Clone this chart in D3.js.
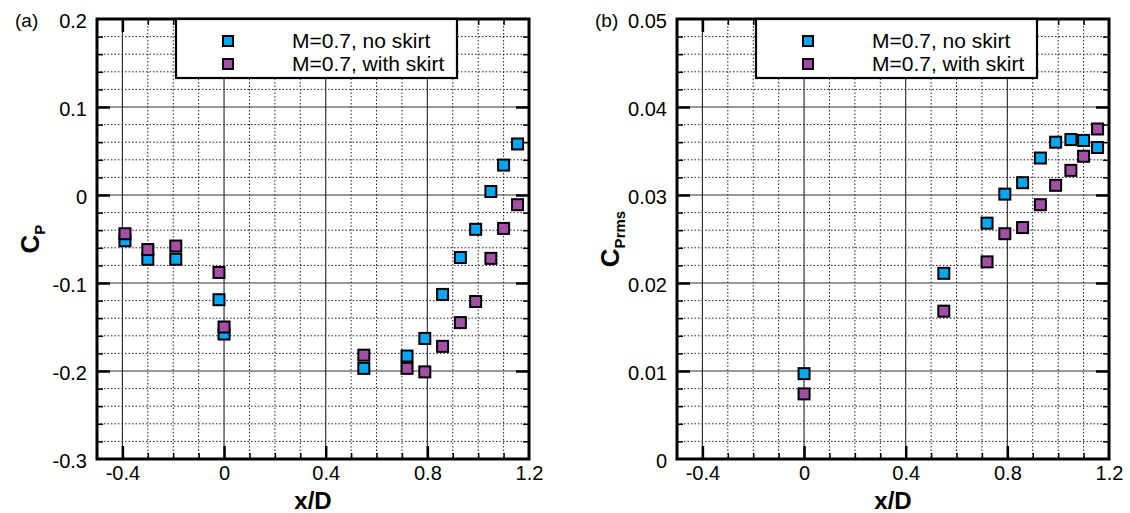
<!DOCTYPE html>
<html>
<head>
<meta charset="utf-8">
<script src="https://cdn.jsdelivr.net/npm/d3@7"></script>
<style>
    body { margin: 0; background: #fff; }
    svg text { font-family: "Liberation Sans", Arial, Helvetica, sans-serif; fill: #000; }
</style>
</head>
<body>
<div id="chart"></div>
<script>
var cpStations = [-0.39, -0.30, -0.19, -0.02, 0.0, 0.55, 0.72, 0.79, 0.86, 0.93, 0.99, 1.05, 1.10, 1.155];
var cpNoSkirt = [-0.052, -0.073, -0.073, -0.119, -0.158, -0.197, -0.183, -0.163, -0.113, -0.071, -0.039, 0.004, 0.034, 0.058];
var cpWithSkirt = [-0.044, -0.062, -0.058, -0.088, -0.150, -0.182, -0.197, -0.201, -0.172, -0.145, -0.121, -0.072, -0.038, -0.011];

var rmsStations = [0.0, 0.55, 0.72, 0.79, 0.86, 0.93, 0.99, 1.05, 1.10, 1.155];
var rmsNoSkirt = [0.0097, 0.0211, 0.0268, 0.0301, 0.0314, 0.0342, 0.0360, 0.0363, 0.0362, 0.0354];
var rmsWithSkirt = [0.0074, 0.0168, 0.0224, 0.0256, 0.0263, 0.0289, 0.0311, 0.0328, 0.0344, 0.0375];

var seriesNames = ["M=0.7, no skirt", "M=0.7, with skirt"];
var seriesColors = ["#00a8f4", "#a24fa5"];

var xTicks = [-0.4, 0, 0.4, 0.8, 1.2];
var cpTicks = [0.2, 0.1, 0, -0.1, -0.2, -0.3];
var rmsTicks = [0.05, 0.04, 0.03, 0.02, 0.01, 0];

var W = 1130, H = 513;
var margin = { top: 19, left: 97 },
    width = 432,
    height = 440;

var svg = d3.select("#chart")
    .append("svg")
    .attr("width", W)
    .attr("height", H);

function fmt(v) { return String(v); }

function panel(opts) {
    var g = svg.append("g")
        .attr("transform", "translate(" + opts.left + "," + margin.top + ")");

    var x = d3.scaleLinear().domain([-0.5, 1.2]).range([0, width]);
    var y = d3.scaleLinear().domain(opts.yDomain).range([height, 0]);

    // minor positions
    var xMinor = d3.range(-4, 12).map(function (i) { return i / 10; })
        .filter(function (v) { return xTicks.indexOf(v) < 0; });
    var yMinor = d3.range(opts.minorFrom, opts.minorTo + 1)
        .filter(function (i) { return i % 5 != 0; })
        .map(function (i) { return i * opts.minorStep; });
    var xMajor = xTicks.filter(function (v) { return v > -0.5 && v < 1.2; });
    var yMajor = opts.ticks.filter(function (v) { return v > opts.yDomain[0] && v < opts.yDomain[1]; });

    // dotted minor grid
    g.append("g").selectAll("line").data(xMinor).enter().append("line")
        .attr("x1", function (d) { return x(d); }).attr("x2", function (d) { return x(d); })
        .attr("y1", 0).attr("y2", height)
        .attr("stroke", "#222").attr("stroke-width", 1).attr("stroke-dasharray", "1.5,2");
    g.append("g").selectAll("line").data(yMinor).enter().append("line")
        .attr("x1", 0).attr("x2", width)
        .attr("y1", function (d) { return y(d); }).attr("y2", function (d) { return y(d); })
        .attr("stroke", "#222").attr("stroke-width", 1).attr("stroke-dasharray", "1.5,2");

    // solid major grid
    g.append("g").selectAll("line").data(xMajor).enter().append("line")
        .attr("x1", function (d) { return x(d); }).attr("x2", function (d) { return x(d); })
        .attr("y1", 0).attr("y2", height)
        .attr("stroke", "#333").attr("stroke-width", 1.2);
    g.append("g").selectAll("line").data(yMajor).enter().append("line")
        .attr("x1", 0).attr("x2", width)
        .attr("y1", function (d) { return y(d); }).attr("y2", function (d) { return y(d); })
        .attr("stroke", "#333").attr("stroke-width", 1.2);

    // inward ticks on all four sides
    function ticks(axis, vals, size, sw, tr) {
        var a = g.append("g").attr("transform", tr || null)
            .call(axis.tickValues(vals).tickSize(size).tickFormat(""));
        a.select(".domain").remove();
        a.selectAll("line").attr("stroke", "#000").attr("stroke-width", sw);
    }
    ticks(d3.axisLeft(y), yMajor, -13, 2.5);
    ticks(d3.axisRight(y), yMajor, -13, 2.5, "translate(" + width + ",0)");
    ticks(d3.axisBottom(x), xMajor, -13, 2.5, "translate(0," + height + ")");
    ticks(d3.axisTop(x), xMajor, -13, 2.5);
    ticks(d3.axisLeft(y), yMinor, -6, 1.5);
    ticks(d3.axisRight(y), yMinor, -6, 1.5, "translate(" + width + ",0)");
    ticks(d3.axisBottom(x), xMinor, -6, 1.5, "translate(0," + height + ")");
    ticks(d3.axisTop(x), xMinor, -6, 1.5);

    // tick labels
    var yl = g.append("g")
        .call(d3.axisLeft(y).tickValues(opts.ticks).tickSize(0).tickPadding(10).tickFormat(fmt));
    yl.select(".domain").remove();
    yl.selectAll("text").attr("font-size", 20).attr("dy", "0.4em")
        .style("font-family", "'Liberation Sans', Arial, sans-serif");

    var xl = g.append("g")
        .attr("transform", "translate(0," + height + ")")
        .call(d3.axisBottom(x).tickValues(xTicks).tickSize(0).tickPadding(7).tickFormat(fmt));
    xl.select(".domain").remove();
    xl.selectAll("text").attr("font-size", 20)
        .style("font-family", "'Liberation Sans', Arial, sans-serif");

    // frame
    g.append("rect")
        .attr("width", width).attr("height", height)
        .attr("fill", "none").attr("stroke", "#000").attr("stroke-width", 3);

    // legend
    var leg = g.append("g").attr("transform", "translate(79,0)");
    leg.append("rect")
        .attr("width", 281).attr("height", 59)
        .attr("fill", "#fff").attr("stroke", "#000").attr("stroke-width", 2.2);
    seriesNames.forEach(function (name, i) {
        leg.append("rect")
            .attr("x", 52 - 5).attr("y", 22 + i * 23 - 5)
            .attr("width", 10).attr("height", 10)
            .attr("fill", seriesColors[i]).attr("stroke", "#000").attr("stroke-width", 2);
        leg.append("text")
            .attr("x", 116).attr("y", 29 + i * 23)
            .attr("font-size", 21)
            .text(name);
    });

    // data points
    [opts.a, opts.b].forEach(function (vals, i) {
        g.append("g").selectAll("rect")
            .data(vals.map(function (v, k) { return { x: opts.stations[k], v: v }; }))
            .enter().append("rect")
            .attr("x", function (d) { return x(d.x) - 5.5; })
            .attr("y", function (d) { return y(d.v) - 5.5; })
            .attr("width", 11).attr("height", 11)
            .attr("fill", seriesColors[i])
            .attr("stroke", "#000").attr("stroke-width", 2);
    });

    // panel tag
    svg.append("text")
        .attr("x", opts.left - 82).attr("y", 27)
        .attr("font-size", 19)
        .text(opts.tag);

    // axis titles
    svg.append("text")
        .attr("x", opts.left + width / 2).attr("y", 509)
        .attr("text-anchor", "middle")
        .attr("font-size", 24).attr("font-weight", "bold")
        .text("x/D");

    var yt = svg.append("text")
        .attr("transform", "translate(" + (opts.left - 58) + "," + (margin.top + height / 2) + ") rotate(-90)")
        .attr("text-anchor", "middle")
        .attr("font-weight", "bold");
    yt.append("tspan").attr("font-size", 26).text("C");
    yt.append("tspan").attr("font-size", 15).attr("dy", 6).text(opts.sub);
}

panel({
    left: margin.left, tag: "(a)", sub: "P",
    yDomain: [-0.3, 0.2], ticks: cpTicks,
    minorFrom: -15, minorTo: 10, minorStep: 0.02,
    stations: cpStations, a: cpNoSkirt, b: cpWithSkirt
});

panel({
    left: 677, tag: "(b)", sub: "Prms",
    yDomain: [0, 0.05], ticks: rmsTicks,
    minorFrom: 0, minorTo: 25, minorStep: 0.002,
    stations: rmsStations, a: rmsNoSkirt, b: rmsWithSkirt
});
</script>
</body>
</html>
